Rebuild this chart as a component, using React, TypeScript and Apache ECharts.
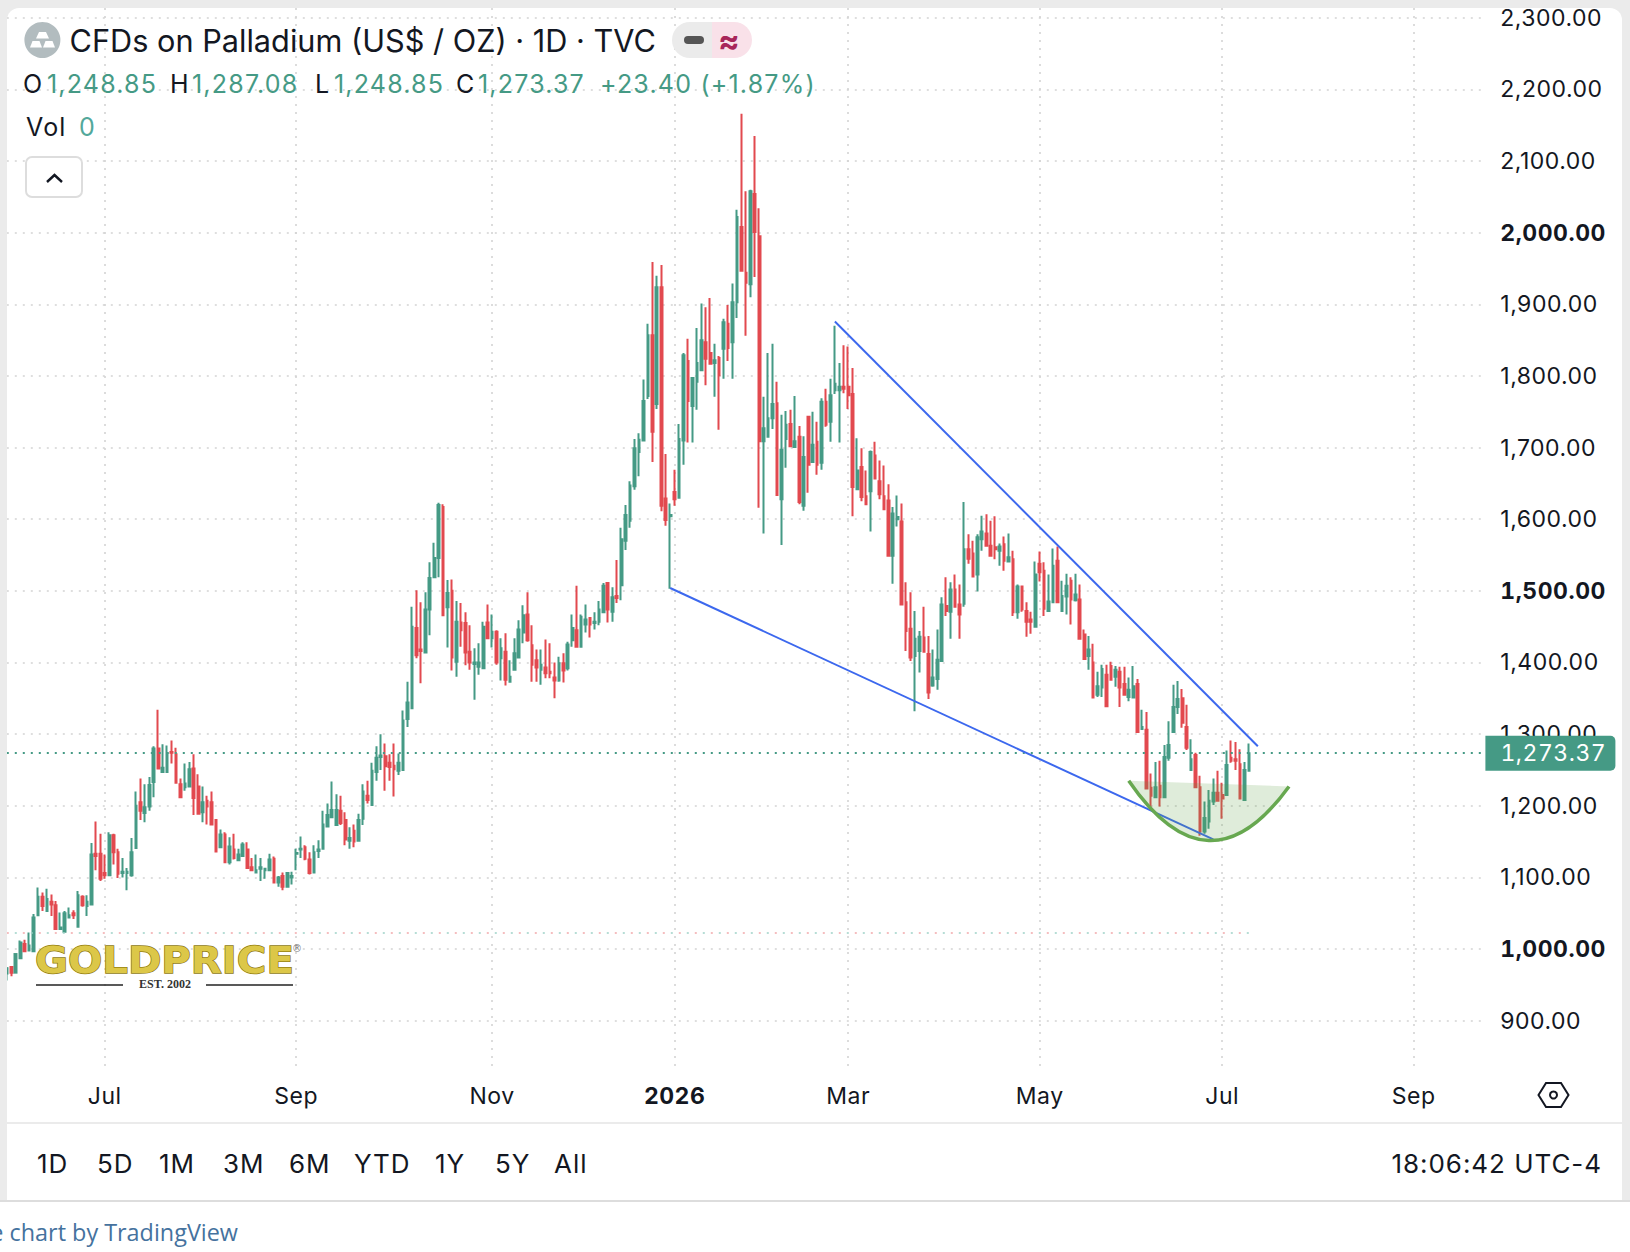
import React, { useEffect, useRef } from "react";
import * as echarts from "echarts";

// [open, close, low, high]
const summer2025 = [
[966,973,956,975],[975,967,962,976],[967,993,967,993],[987,1009,987,1012],[1007,997,997,1013],[998,1005,998,1023],[997,1044,997,1049],[1047,1073,1046,1086],[1073,1060,1053,1079],[1053,1070,1053,1084],
[1066,1062,1046,1076],[1061,1028,1028,1067],[1028,1030,1028,1051],[1024,1050,1024,1053],[1044,1047,1044,1058],[1050,1047,1042,1054],[1031,1075,1031,1081],[1073,1061,1059,1075],[1060,1066,1046,1075],[1062,1132,1062,1148],
[1133,1130,1110,1178],[1133,1098,1095,1161],[1106,1103,1098,1132],[1103,1159,1103,1163],[1159,1135,1118,1161],[1135,1105,1099,1140],[1106,1108,1100,1127],[1106,1108,1082,1113],[1103,1135,1101,1155],[1141,1200,1141,1220],
[1205,1193,1180,1238],[1190,1198,1177,1230],[1199,1229,1193,1240],[1233,1280,1212,1283],[1280,1252,1252,1334],[1247,1253,1247,1286],[1247,1272,1247,1284],[1275,1274,1259,1291],[1272,1232,1232,1281],[1230,1212,1212,1238],
[1226,1231,1221,1259],[1227,1251,1226,1261],[1252,1211,1187,1272],[1227,1189,1188,1244],[1191,1205,1177,1227],[1207,1199,1174,1214],[1205,1174,1174,1220],[1180,1136,1135,1180],[1142,1160,1142,1167],[1160,1121,1121,1163],
[1121,1143,1118,1156],[1139,1127,1125,1161],[1124,1132,1123,1140],[1130,1146,1130,1149],[1139,1113,1113,1149],[1114,1110,1110,1127],[1107,1110,1107,1132],[1112,1114,1095,1127],[1110,1112,1098,1113],[1110,1125,1110,1133],
[1126,1093,1093,1129],[1093,1100,1087,1102],[1102,1087,1082,1107],[1087,1106,1087,1107],[1100,1102,1090,1108],[1133,1134,1110,1140],[1139,1140,1127,1157],[1142,1126,1124,1145],[1125,1106,1104,1135],[1107,1135,1106,1145],
];
const autumn2025 = [
[1137,1139,1127,1152],[1140,1174,1140,1193],[1171,1187,1171,1203],[1184,1194,1184,1234],[1173,1194,1173,1216],[1193,1176,1173,1214],[1180,1153,1145,1191],[1151,1155,1140,1170],[1165,1150,1142,1174],[1151,1180,1151,1189],
[1182,1220,1173,1230],[1214,1208,1203,1235],[1201,1249,1201,1260],[1247,1267,1235,1283],[1268,1270,1250,1300],[1269,1255,1221,1287],[1260,1254,1235,1272],[1256,1251,1213,1287],[1249,1260,1243,1273],[1250,1319,1249,1333],
[1321,1344,1310,1373],[1336,1450,1336,1478],[1448,1410,1406,1501],[1418,1416,1371,1484],[1414,1474,1414,1498],[1474,1518,1438,1540],[1519,1546,1518,1567],[1546,1620,1519,1623],[1617,1466,1466,1621],[1477,1497,1421,1515],
[1500,1407,1389,1516],[1401,1457,1380,1486],[1456,1445,1422,1483],[1455,1414,1396,1470],[1415,1400,1390,1452],[1398,1400,1348,1420],[1394,1400,1383,1427],[1392,1450,1392,1457],[1456,1434,1434,1481],[1434,1443,1421,1467],
[1443,1400,1397,1445],[1406,1420,1375,1434],[1415,1376,1368,1441],[1373,1380,1372,1403],[1390,1413,1389,1434],[1407,1446,1407,1459],[1442,1466,1427,1480],[1467,1431,1429,1498],[1424,1397,1373,1452],[1403,1393,1373,1418],
[1390,1397,1369,1418],[1393,1385,1378,1432],[1387,1385,1378,1427],[1379,1375,1350,1400],[1375,1399,1373,1408],[1399,1389,1372,1413],[1392,1425,1389,1429],[1431,1448,1422,1467],[1445,1422,1422,1507],[1422,1464,1421,1467],
[1453,1460,1442,1481],[1462,1453,1435,1462],[1455,1457,1446,1470],[1457,1474,1452,1486],[1470,1507,1470,1511],[1511,1474,1456,1512],[1471,1491,1457,1505],[1493,1490,1483,1543],[1508,1572,1487,1588],[1570,1606,1557,1620],
];
const winter2026 = [
[1598,1647,1588,1653],[1646,1699,1641,1712],[1694,1711,1660,1720],[1710,1765,1710,1795],[1772,1857,1768,1873],[1857,1722,1680,1959],[1761,1924,1754,1940],[1924,1619,1611,1955],[1629,1599,1591,1691],[1604,1606,1503,1622],
[1638,1628,1619,1669],[1630,1712,1630,1733],[1710,1829,1676,1832],[1821,1765,1707,1852],[1758,1797,1707,1797],[1792,1818,1753,1867],[1808,1850,1808,1901],[1847,1824,1787,1896],[1832,1817,1817,1909],[1818,1822,1771,1845],
[1825,1801,1725,1828],[1838,1875,1796,1880],[1873,1839,1821,1899],[1847,1903,1796,1929],[1903,2022,1881,2032],[2008,1947,1947,2166],[1944,1930,1856,2058],[1928,2058,1910,2060],[2054,2001,1938,2135],[1995,1709,1616,2034],
[1709,1727,1580,1771],[1715,1741,1715,1832],[1741,1761,1726,1845],[1762,1634,1634,1792],[1628,1697,1564,1746],[1712,1732,1672,1751],[1733,1702,1702,1753],[1701,1709,1701,1772],[1715,1624,1621,1730],[1619,1687,1612,1716],
[1743,1676,1637,1743],[1680,1704,1680,1750],[1708,1676,1662,1736],[1679,1764,1669,1769],[1764,1732,1729,1782],[1736,1773,1708,1796],[1780,1789,1775,1870],[1780,1785,1707,1818],[1785,1782,1776,1843],[1785,1773,1754,1841],
[1775,1645,1604,1811],[1642,1668,1642,1713],[1673,1631,1625,1699],[1632,1621,1621,1668],[1639,1694,1583,1696],[1689,1657,1657,1708],[1653,1635,1628,1682],[1632,1614,1614,1675],[1626,1549,1549,1649],[1549,1608,1510,1617],
[1600,1603,1590,1633],[1597,1481,1481,1622],[1484,1444,1416,1512],[1447,1407,1402,1498],[1409,1433,1332,1472],[1416,1436,1386,1444],[1435,1415,1415,1478],[1412,1358,1349,1437],[1368,1379,1366,1418],[1377,1404,1362,1446],
];
const spring2026 = [
[1402,1481,1402,1491],[1479,1472,1465,1519],[1471,1502,1433,1512],[1502,1478,1477,1523],[1481,1467,1433,1509],[1482,1558,1478,1624],[1558,1545,1538,1579],[1552,1520,1520,1570],[1523,1575,1499,1579],[1572,1583,1556,1605],
[1580,1563,1563,1607],[1563,1549,1549,1598],[1561,1558,1544,1604],[1556,1562,1535,1566],[1565,1542,1528,1576],[1541,1547,1541,1580],[1544,1470,1465,1556],[1470,1506,1461,1509],[1506,1474,1471,1506],[1472,1457,1436,1484],
[1460,1457,1440,1471],[1450,1523,1450,1541],[1538,1526,1513,1555],[1528,1475,1465,1540],[1472,1485,1472,1523],[1484,1535,1484,1559],[1542,1484,1484,1562],[1472,1493,1472,1514],[1492,1507,1467,1524],[1514,1488,1453,1519],
[1487,1495,1485,1524],[1488,1433,1433,1509],[1439,1405,1405,1446],[1409,1418,1390,1437],[1400,1351,1351,1426],[1355,1367,1352,1387],[1365,1391,1352,1397],[1383,1339,1339,1397],[1395,1376,1376,1401],[1380,1390,1366,1395],
[1387,1365,1338,1394],[1370,1355,1355,1394],[1352,1362,1346,1379],[1351,1367,1351,1395],[1370,1303,1303,1377],[1307,1310,1307,1334],[1306,1224,1224,1331],[1225,1214,1198,1245],[1212,1226,1212,1261],[1228,1212,1199,1263],
[1212,1268,1212,1285],[1267,1285,1263,1318],[1303,1338,1303,1369],[1338,1349,1328,1374],[1350,1316,1309,1363],[1310,1281,1278,1341],[1250,1265,1250,1293],[1271,1226,1226,1274],[1226,1164,1158,1242],[1164,1183,1161,1206],
[1178,1207,1168,1222],[1206,1218,1201,1238],[1218,1207,1206,1249],[1215,1210,1182,1232],[1215,1257,1215,1277],[1267,1263,1260,1291],[1265,1263,1250,1289],[1258,1210,1210,1279],[1208,1250,1208,1261],[1248.85,1273.37,1248.85,1287.08],
];
const candles = [...summer2025, ...autumn2025, ...winter2026, ...spring2026];

const tickIndices = [22, 65, 109, 150, 189, 232, 273, 316];
const tickLabels = ["Jul", "Sep", "Nov", "2026", "Mar", "May", "Jul", "Sep"];
const priceTicks = [900, 1000, 1100, 1200, 1300, 1400, 1500, 1600, 1700, 1800, 1900, 2000, 2100, 2200, 2300];
const boldPrices = [1000, 1500, 2000];
const lastPrice = 1273.37;
const faintLevel = 1023;
const upperTrend = [[186, 1876], [281, 1283]];
const lowerTrend = [[149, 1504], [271, 1153]];
const bowl = [[252, 1235, 270, 1072, 288, 1227]];
const rangeTabs = [["1D", 37], ["5D", 97], ["1M", 159], ["3M", 223], ["6M", 289], ["YTD", 354], ["1Y", 435], ["5Y", 495], ["All", 554]];

const UP = "#459a85";
const DOWN = "#e2494f";
const GREY = "#ebebeb";
const FONT = "Inter";
const INK = "#131722";

const barCount = 333;
const categories = Array.from({ length: barCount }, (_, i) => String(i));
const fmt = (v: number) => v.toLocaleString("en-US", { minimumFractionDigits: 2, maximumFractionDigits: 2 });

const textCss = `
text { font-variant-numeric: tabular-nums; font-feature-settings: "tnum"; letter-spacing: 0.5px; }
text[style*="30.7px"], text[style*="DejaVu"], text[style*="Open Sans"], text[style*="Liberation"] { letter-spacing: 0; }
text[style*="26px"] { letter-spacing: 0.95px; }
text[style*="25px"] { letter-spacing: 1.2px; }
text[style*="700 23px"], text[style*="bold 23px"] { letter-spacing: 1.2px; }
`;

const txt = (text: string, x: number, y: number, font: string, fill: any, align = "left", z = 60) => ({
  type: "text", z, silent: true,
  style: { text, x, y, font, fill, textAlign: align, textVerticalAlign: "middle" },
});
const rect = (x: number, y: number, width: number, height: number, fill: string, z = -5, r: any = 0) => ({
  type: "rect", z, silent: true, shape: { x, y, width, height, r }, style: { fill },
});

function buildGraphic() {
  const ohlc: any[] = [
    ["O", 23, INK], ["1,248.85", 47, UP], ["H", 170, INK], ["1,287.08", 192, UP], ["L", 315, INK], ["1,248.85", 334, UP],
    ["C", 456, INK], ["1,273.37", 478, UP], ["+23.40 (+1.87%)", 600, UP],
  ];
  return [
    rect(7, 8, 1615, 1114, "#ffffff", -5, [12, 12, 0, 0]),
    rect(7, 1124, 1615, 76, "#ffffff", -5),
    rect(0, 1200, 1630, 2, "#dddddd", -5),
    rect(0, 1202, 1630, 50, "#ffffff", -5),
    rect(0, 0, 7, 1200, GREY, 100),

    { type: "circle", z: 60, silent: true, shape: { cx: 42.4, cy: 40, r: 18 }, style: { fill: "#b2bcbf" } },
    { type: "polygon", z: 61, silent: true, shape: { points: [[39, 32], [46, 32], [49, 38.5], [36, 38.5]] }, style: { fill: "#fff" } },
    { type: "polygon", z: 61, silent: true, shape: { points: [[32.5, 41], [39.5, 41], [42, 47.5], [30, 47.5]] }, style: { fill: "#fff" } },
    { type: "polygon", z: 61, silent: true, shape: { points: [[45.5, 41], [52.5, 41], [55, 47.5], [43, 47.5]] }, style: { fill: "#fff" } },
    txt("CFDs on Palladium (US$ / OZ) · 1D · TVC", 69.5, 40, `400 30.7px ${FONT}`, INK),
    rect(672, 22, 40, 36, GREY, 60, [18, 0, 0, 18]),
    rect(712, 22, 40, 36, "#f9e1e9", 60, [0, 18, 18, 0]),
    rect(684, 36, 20, 8, "#555555", 61, 4),
    txt("≈", 729, 40, `700 32px ${FONT}`, "#a8265a", "center", 61),
    ...ohlc.map(([t, x, c]) => txt(t, x, 84, `400 25px ${FONT}`, c)),
    txt("Vol", 26, 127, `400 25px ${FONT}`, INK),
    txt("0", 79, 127, `400 25px ${FONT}`, "#53a89b"),
    { type: "rect", z: 60, silent: true, shape: { x: 26, y: 157, width: 56, height: 40, r: 6 }, style: { fill: "#fff", stroke: "#dddddd", lineWidth: 2 } },
    { type: "polyline", z: 61, silent: true, shape: { points: [[47, 182], [54.5, 175], [62, 182]] }, style: { fill: "none", stroke: "#131722", lineWidth: 2.4 } },

    {
      type: "text", z: 50, silent: true, x: 35, y: 960, scaleX: 1.06,
      style: { text: "GOLDPRICE", x: 0, y: 0, font: "700 38px 'DejaVu Sans'", fill: "#dcc748", stroke: "#8f7a12", lineWidth: 1.4, textVerticalAlign: "middle" },
    },
    txt("®", 297, 948, "400 10px 'DejaVu Sans'", "#777", "center", 50),
    txt("EST. 2002", 165, 984, "700 12px 'Liberation Serif'", "#333", "center", 50),
    { type: "line", z: 50, silent: true, shape: { x1: 36, y1: 985, x2: 123, y2: 985 }, style: { stroke: "#222", lineWidth: 1.5 } },
    { type: "line", z: 50, silent: true, shape: { x1: 206, y1: 985, x2: 293, y2: 985 }, style: { stroke: "#222", lineWidth: 1.5 } },

    { type: "polygon", z: 60, silent: true, shape: { points: [[1538.5, 1095], [1546, 1083], [1561, 1083], [1568.5, 1095], [1561, 1107], [1546, 1107]] }, style: { fill: "none", stroke: INK, lineWidth: 2 } },
    { type: "circle", z: 60, silent: true, shape: { cx: 1553.5, cy: 1095, r: 3.5 }, style: { fill: "none", stroke: INK, lineWidth: 2 } },

    ...rangeTabs.map(([t, x]: any) => txt(t, x, 1163, `400 26px ${FONT}`, INK)),
    txt("18:06:42 UTC-4", 1602, 1163, `400 26px ${FONT}`, INK, "right"),
    txt("e chart by TradingView", 238, 1232, "400 23.4px 'Open Sans'", "#45729e", "right"),
  ];
}

export default function App() {
  const ref = useRef<HTMLDivElement>(null);
  useEffect(() => {
    const chart = echarts.init(ref.current!, undefined, { renderer: "svg" });
    const gridDots = { type: [2, 6], color: "#d4d4d4", width: 1.6 };
    const option: any = {
      animation: false,
      backgroundColor: GREY,
      grid: { left: 6.8, right: 145.1, top: 8, bottom: 186, containLabel: false },
      graphic: { elements: buildGraphic() },
      xAxis: {
        type: "category",
        data: categories,
        boundaryGap: false,
        axisLine: { show: false },
        axisTick: { show: false },
        axisLabel: {
          margin: 18,
          interval: (i: number) => tickIndices.includes(i),
          formatter: (_: string, i: number) => {
            const label = tickLabels[tickIndices.indexOf(i)] ?? "";
            return label === "2026" ? `{b|${label}}` : label;
          },
          fontFamily: FONT, fontSize: 23, color: INK,
          rich: { b: { fontFamily: FONT, fontSize: 23, fontWeight: 700, color: INK } },
        },
        splitLine: { show: true, interval: (i: number) => tickIndices.includes(i), lineStyle: gridDots },
      },
      yAxis: {
        type: "value",
        position: "right",
        min: 836.7,
        max: 2313.7,
        axisLine: { show: false },
        axisTick: { show: false, customValues: priceTicks },
        splitLine: { show: true, lineStyle: gridDots },
        axisLabel: {
          customValues: priceTicks,
          margin: 15.4,
          align: "left",
          fontFamily: FONT, fontSize: 23, color: INK,
          formatter: (v: number) => (boldPrices.includes(v) ? `{b|${fmt(v)}}` : fmt(v)),
          rich: { b: { fontFamily: FONT, fontSize: 23, fontWeight: 700, color: INK } },
        },
      },
      series: [
        {
          type: "candlestick",
          data: candles,
          barWidth: 2.2,
          clip: true,
          itemStyle: { color: UP, color0: DOWN, borderColor: UP, borderColor0: DOWN, borderColorDoji: UP, borderWidth: 2 },
          markLine: {
            silent: true,
            symbol: ["none", "none"],
            animation: false,
            data: [
              {
                yAxis: lastPrice,
                lineStyle: { type: [2, 6], color: UP, width: 1.8 },
                label: {
                  show: true, position: "end", distance: 0.5, formatter: fmt(lastPrice),
                  fontFamily: FONT, fontSize: 23, color: "#fff", backgroundColor: UP,
                  padding: [6, 0, 6, 15], width: 115, align: "left",
                  borderRadius: [0, 5, 5, 0],
                },
              },
              [
                { coord: [0, faintLevel], lineStyle: { type: [2, 14], color: "#f2a8aa", width: 1.5 }, label: { show: false } },
                { coord: [279, faintLevel] },
              ],
              [
                { coord: [0, faintLevel], lineStyle: { type: [2, 14], dashOffset: 8, color: "#9ed2c8", width: 1.5 }, label: { show: false } },
                { coord: [279, faintLevel] },
              ],
            ],
          },
        },
        { type: "line", data: upperTrend, showSymbol: false, z: 5, silent: true, lineStyle: { color: "#3c68ee", width: 2 } },
        { type: "line", data: lowerTrend, showSymbol: false, z: 5, silent: true, lineStyle: { color: "#3c68ee", width: 2 } },
        {
          type: "custom",
          z: 6,
          silent: true,
          clip: false,
          data: bowl,
          encode: { x: [0, 2, 4], y: [1, 3, 5] },
          renderItem: (_: any, api: any) => {
            const a = api.coord([api.value(0), api.value(1)]);
            const c = api.coord([api.value(2), api.value(3)]);
            const b = api.coord([api.value(4), api.value(5)]);
            return {
              type: "bezierCurve",
              shape: { x1: a[0], y1: a[1], x2: b[0], y2: b[1], cpx1: c[0], cpy1: c[1] },
              style: { fill: "rgba(96,160,72,0.2)", stroke: "#67a850", lineWidth: 3.5 },
            };
          },
        },
      ],
    };
    chart.setOption(option);
    return () => chart.dispose();
  }, []);
  return (
    <>
      <style>{textCss}</style>
      <div ref={ref} style={{ position: "fixed", left: 0, top: 0, width: 1630, height: 1252 }} />
    </>
  );
}
